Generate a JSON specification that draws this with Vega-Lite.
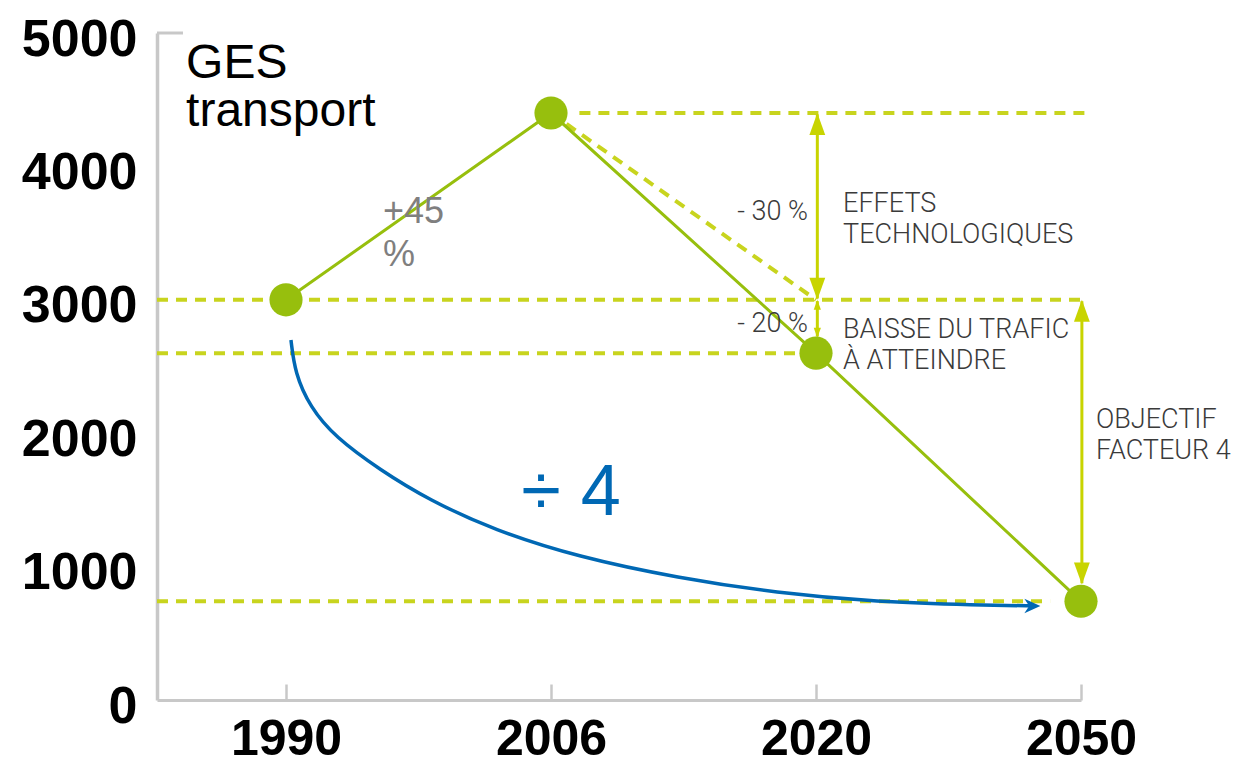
{
  "$schema": "https://vega.github.io/schema/vega-lite/v6.json",
  "width": 924,
  "height": 667,
  "autosize": {"type": "none"},
  "padding": {"left": 157, "top": 33, "right": 159, "bottom": 64},
  "background": "white",
  "config": {"view": {"stroke": null}},
  "datasets": {
    "points": [
      {"year": 1990, "ges": 3000},
      {"year": 2006, "ges": 4400},
      {"year": 2020, "ges": 2600},
      {"year": 2050, "ges": 740}
    ],
    "dashed": [
      {"year": 2007.5, "year2": 2050.45, "ges": 4400, "ges2": 4400},
      {"year": 1982.2, "year2": 2050.45, "ges": 3000, "ges2": 3000},
      {"year": 1982.2, "year2": 2020, "ges": 2600, "ges2": 2600},
      {"year": 1982.2, "year2": 2046.5, "ges": 740, "ges2": 740},
      {"year": 2006, "year2": 2020, "ges": 4400, "ges2": 3000}
    ],
    "shafts": [
      {"year": 2020.15, "ges": 4390, "ges2": 3010},
      {"year": 2020.15, "ges": 2990, "ges2": 2725},
      {"year": 2050.1, "ges": 2990, "ges2": 875}
    ],
    "heads": [
      {"year": 2020.15, "ges": 4400, "dir": "up", "head": "big"},
      {"year": 2020.15, "ges": 3000, "dir": "down", "head": "big"},
      {"year": 2020.15, "ges": 3000, "dir": "up", "head": "small"},
      {"year": 2020.15, "ges": 2715, "dir": "down", "head": "small"},
      {"year": 2050.1, "ges": 3000, "dir": "up", "head": "big"},
      {"year": 2050.1, "ges": 865, "dir": "down", "head": "big"}
    ],
    "curve": [
      {"year": 1990.3, "ges": 2699},
      {"year": 1990.54, "ges": 2451},
      {"year": 1991.45, "ges": 2196},
      {"year": 1992.96, "ges": 1971},
      {"year": 1995.68, "ges": 1724},
      {"year": 1998.63, "ges": 1499},
      {"year": 2002.56, "ges": 1274},
      {"year": 2007.43, "ges": 1072},
      {"year": 2012.71, "ges": 915},
      {"year": 2017.94, "ges": 802},
      {"year": 2026.91, "ges": 735},
      {"year": 2038.23, "ges": 712},
      {"year": 2044.91, "ges": 705}
    ]
  },
  "encoding": {
    "x": {
      "field": "year",
      "type": "quantitative",
      "scale": {"domain": [1982.2, 1990, 2006, 2020, 2050], "range": [0, 129, 394, 659, 924]},
      "axis": {
        "title": null,
        "values": [1990, 2006, 2020, 2050],
        "format": "d",
        "grid": false,
        "domainColor": "#c8c8c8",
        "domainWidth": 3,
        "tickColor": "#c8c8c8",
        "tickWidth": 2.5,
        "tickSize": -16,
        "labelFlush": false,
        "labelOverlap": false,
        "labelFont": "Liberation Sans",
        "labelFontSize": 50,
        "labelFontWeight": "bold",
        "labelColor": "#000000",
        "labelPadding": 30
      }
    },
    "y": {
      "field": "ges",
      "type": "quantitative",
      "scale": {"domain": [0, 5000], "nice": false},
      "axis": {
        "title": null,
        "values": [0, 1000, 2000, 3000, 4000, 5000],
        "format": "d",
        "grid": false,
        "ticks": false,
        "domainColor": "#c8c8c8",
        "domainWidth": 3.5,
        "labelFlush": false,
        "labelOverlap": false,
        "labelFont": "Liberation Sans",
        "labelFontSize": 52,
        "labelFontWeight": "bold",
        "labelColor": "#000000",
        "labelPadding": 20,
        "labelOffset": 6
      }
    }
  },
  "layer": [
    {
      "data": {"values": [{"year": 1982.2, "year2": 1983.77, "ges": 5000}]},
      "mark": {"type": "rule", "color": "#c8c8c8", "strokeWidth": 3},
      "encoding": {"x2": {"field": "year2"}}
    },
    {
      "data": {"name": "dashed"},
      "mark": {"type": "rule", "color": "#c8d41e", "strokeWidth": 4, "strokeDash": [11, 8]},
      "encoding": {"x2": {"field": "year2"}, "y2": {"field": "ges2"}}
    },
    {
      "data": {"name": "shafts"},
      "mark": {"type": "rule", "color": "#c8d400", "strokeWidth": 3},
      "encoding": {"y2": {"field": "ges2"}}
    },
    {
      "data": {"name": "heads"},
      "mark": {"type": "point", "filled": true, "opacity": 1, "color": "#c8d400", "strokeWidth": 0},
      "encoding": {
        "shape": {"field": "dir", "type": "nominal", "scale": {"domain": ["up", "down"], "range": ["M0,0L-0.36,1L0.36,1Z", "M0,0L-0.36,-1L0.36,-1Z"]}, "legend": null},
        "size": {"field": "head", "type": "ordinal", "scale": {"domain": ["big", "small"], "range": [1936, 400]}, "legend": null}
      }
    },
    {
      "data": {"name": "points"},
      "mark": {"type": "line", "color": "#97bf0d", "strokeWidth": 3}
    },
    {
      "data": {"name": "curve"},
      "mark": {"type": "line", "color": "#0068b4", "strokeWidth": 3.5, "interpolate": "basis"}
    },
    {
      "data": {"values": [{"year": 2045.4, "ges": 705}]},
      "mark": {"type": "point", "filled": true, "opacity": 1, "color": "#0068b4", "strokeWidth": 0, "shape": "M0,0L-1,-0.45L-0.7,0L-1,0.45Z", "size": 1024}
    },
    {
      "data": {"name": "points"},
      "mark": {"type": "point", "filled": true, "opacity": 1, "color": "#97bf0d", "strokeWidth": 0, "shape": "circle", "size": 1100}
    },
    {
      "data": {"values": [{"year": 1983.96, "ges": 4663, "label": "GES\ntransport"}]},
      "mark": {"type": "text", "align": "left", "baseline": "alphabetic", "font": "Liberation Sans", "fontSize": 48, "lineHeight": 48, "lineBreak": "\n", "color": "#000000"},
      "encoding": {"text": {"field": "label"}}
    },
    {
      "data": {"values": [{"year": 1995.86, "ges": 3576, "label": "+45\n%"}]},
      "mark": {"type": "text", "align": "left", "baseline": "alphabetic", "font": "Liberation Sans", "fontSize": 36, "lineHeight": 43, "lineBreak": "\n", "color": "#7f7f7f"},
      "encoding": {"text": {"field": "label"}}
    },
    {
      "data": {"values": [
        {"year": 2019.58, "ges": 3598, "label": "- 30 %"},
        {"year": 2019.58, "ges": 2759, "label": "- 20 %"}
      ]},
      "mark": {"type": "text", "align": "right", "baseline": "alphabetic", "font": "Roboto", "fontWeight": 300, "fontSize": 27, "color": "#3a3a3a"},
      "encoding": {"text": {"field": "label"}}
    },
    {
      "data": {"values": [
        {"year": 2023.06, "ges": 3658, "label": "EFFETS\nTECHNOLOGIQUES"},
        {"year": 2023.06, "ges": 2714, "label": "BAISSE DU TRAFIC\nÀ ATTEINDRE"},
        {"year": 2051.7, "ges": 2039, "label": "OBJECTIF\nFACTEUR 4"}
      ]},
      "mark": {"type": "text", "align": "left", "baseline": "alphabetic", "font": "Roboto", "fontWeight": 300, "fontSize": 27, "lineHeight": 31, "lineBreak": "\n", "color": "#3a3a3a"},
      "encoding": {"text": {"field": "label"}}
    },
    {
      "data": {"values": [{"year": 2007.06, "ges": 1387, "label": "÷ 4"}]},
      "mark": {"type": "text", "align": "center", "baseline": "alphabetic", "font": "Liberation Sans", "fontSize": 72, "color": "#0068b4"},
      "encoding": {"text": {"field": "label"}}
    }
  ]
}
